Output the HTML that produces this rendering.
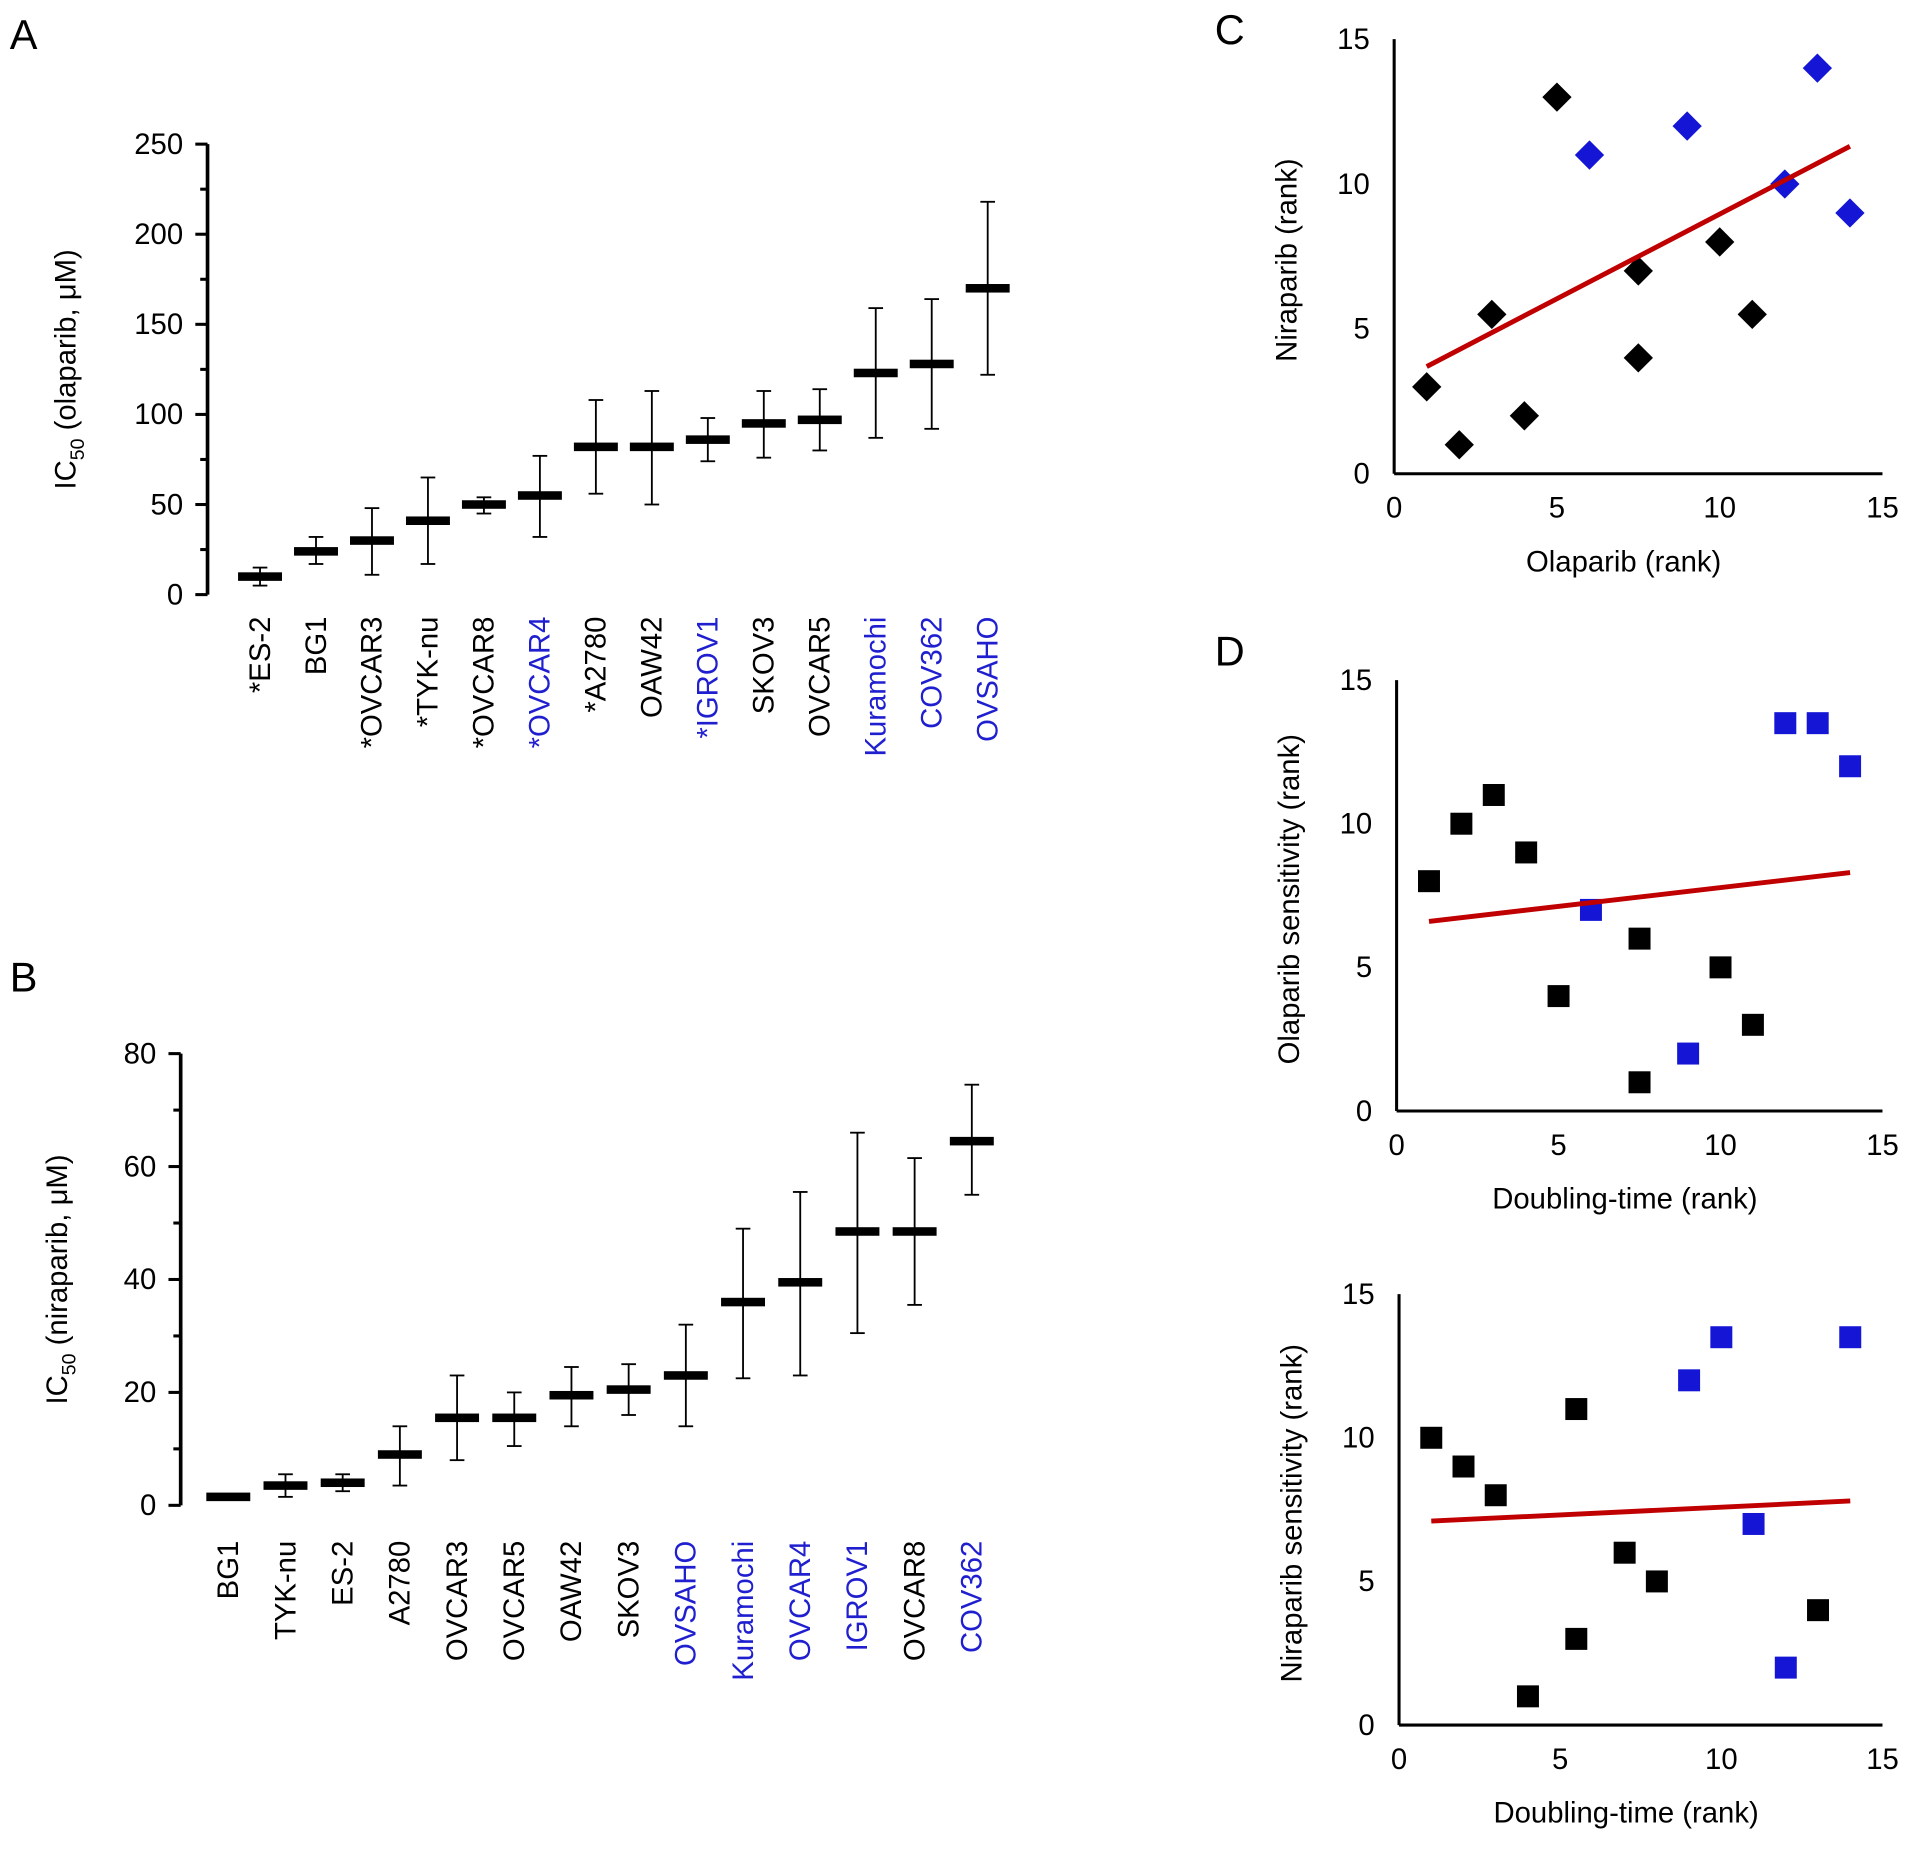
<!DOCTYPE html>
<html><head><meta charset="utf-8"><style>
html,body{margin:0;padding:0;background:#fff;}
svg{display:block;font-family:"Liberation Sans",Arial,sans-serif;}
</style></head><body>
<svg id="fig" width="1913" height="1857" viewBox="0 0 1567 1521" xmlns="http://www.w3.org/2000/svg">
<g id="root"></g>
</svg>
<script>
// Panel A data
const aCats = ["*ES-2","BG1","*OVCAR3","*TYK-nu","*OVCAR8","*OVCAR4","*A2780","OAW42","*IGROV1","SKOV3","OVCAR5","Kuramochi","COV362","OVSAHO"];
const aBlue = [0,0,0,0,0,1,0,0,1,0,0,1,1,1];
const aMean = [10,24,30,41,50,55,82,82,86,95,97,123,128,170];
const aLow  = [5,17,11,17,45,32,56,50,74,76,80,87,92,122];
const aHigh = [15,32,48,65,54,77,108,113,98,113,114,159,164,218];
const aTicks = [0,50,100,150,200,250];
// Panel B data
const bCats = ["BG1","TYK-nu","ES-2","A2780","OVCAR3","OVCAR5","OAW42","SKOV3","OVSAHO","Kuramochi","OVCAR4","IGROV1","OVCAR8","COV362"];
const bBlue = [0,0,0,0,0,0,0,0,1,1,1,1,0,1];
const bMean = [1.5,3.5,4,9,15.5,15.5,19.5,20.5,23,36,39.5,48.5,48.5,64.5];
const bLow  = [1,1.5,2.5,3.5,8,10.5,14,16,14,22.5,23,30.5,35.5,55];
const bHigh = [2,5.5,5.5,14,23,20,24.5,25,32,49,55.5,66,61.5,74.5];
const bTicks = [0,20,40,60,80];
// Panel C data
const cX = [1,2,3,4,5,7.5,7.5,10,11,6,9,12,13,14];
const cY = [3,1,5.5,2,13,7,4,8,5.5,11,12,10,14,9];
const cBlue = [0,0,0,0,0,0,0,0,0,1,1,1,1,1];
const cFit = [[1,3.7],[14,11.3]];
// Panel D1 data
const d1X = [1,2,3,4,5,7.5,7.5,10,11,6,9,12,13,14];
const d1Y = [8,10,11,9,4,6,1,5,3,7,2,13.5,13.5,12];
const d1Blue = [0,0,0,0,0,0,0,0,0,1,1,1,1,1];
const d1Fit = [[1,6.6],[14,8.3]];
// Panel D2 data
const d2X = [1,2,3,4,5.5,5.5,7,8,13,9,10,11,12,14];
const d2Y = [10,9,8,1,3,11,6,5,4,12,13.5,7,2,13.5];
const d2Blue = [0,0,0,0,0,0,0,0,0,1,1,1,1,1];
const d2Fit = [[1,7.1],[14,7.8]];
const scTicks = [0,5,10,15];

const NS="http://www.w3.org/2000/svg";
const root=document.getElementById('root');
function mk(tag,attrs,parent,txt){const e=document.createElementNS(NS,tag);for(const k in attrs)e.setAttribute(k,attrs[k]);if(txt!==undefined)e.textContent=txt;(parent||root).appendChild(e);return e;}
const BLUE="#1f1fd0";
const FS=24;

function letter(t,x,y){const e=mk('text',{x:x,y:y,'font-size':34},root,t);

}
letter('A',8,40);letter('B',8,812);letter('C',995,36);letter('D',995,545);

function barPanel(id,cats,blue,mean,low,high,ticks,axX,y0,yTop,vmax,x0,dx,labY,ylab,ylabX){
  const g=mk('g',{});
  
  
  const ys=v=>y0-(v/vmax)*(y0-yTop);
  const ax=mk('line',{x1:axX,y1:y0,x2:axX,y2:yTop,stroke:'#000','stroke-width':3},g);
  
  const step=ticks[1]-ticks[0];
  for(let v=0;v<=vmax+1e-9;v+=step/2){const major=Math.abs(v/step-Math.round(v/step))<1e-6;
    mk('line',{x1:axX-(major?10:6),y1:ys(v),x2:axX,y2:ys(v),stroke:'#000','stroke-width':2.5},g);}
  ticks.forEach(t=>{const e=mk('text',{x:axX-20,y:ys(t)+8,'font-size':FS,'text-anchor':'end'},g,String(t));
    });
  const yl=mk('text',{transform:`translate(${ylabX},${(y0+yTop)/2}) rotate(-90)`,'font-size':FS,'text-anchor':'middle'},g);
  
  mk('tspan',{},yl,'IC');mk('tspan',{dy:7,'font-size':16},yl,'50');mk('tspan',{dy:-7},yl,' '+ylab);
  cats.forEach((c,i)=>{const x=x0+i*dx;
    const eb=mk('line',{x1:x,y1:ys(low[i]),x2:x,y2:ys(high[i]),stroke:'#000','stroke-width':1.5},g);
    
    mk('line',{x1:x-6,y1:ys(low[i]),x2:x+6,y2:ys(low[i]),stroke:'#000','stroke-width':1.5},g);
    mk('line',{x1:x-6,y1:ys(high[i]),x2:x+6,y2:ys(high[i]),stroke:'#000','stroke-width':1.5},g);
    const m=mk('rect',{x:x-18,y:ys(mean[i])-3.5,width:36,height:7,fill:'#000'},g);
    
    const t=mk('text',{transform:`translate(${x+8},${labY}) rotate(-90)`,'font-size':FS,'text-anchor':'end',fill:blue[i]?BLUE:'#000'},g,c);
    
  });
}
barPanel('panel-a-olaparib-ic50',aCats,aBlue,aMean,aLow,aHigh,aTicks,170,487,118,250,213,45.85,505,'(olaparib, \u03BCM)',62);
barPanel('panel-b-niraparib-ic50',bCats,bBlue,bMean,bLow,bHigh,bTicks,148,1233,863,80,187,46.85,1262,'(niraparib, \u03BCM)',55);

function scatter(id,xs,ys,blue,fit,shape,ox,oy,x15,y15,xlab,ylab){
  const g=mk('g',{});
  
  
  const sx=v=>ox+v/15*(x15-ox), sy=v=>oy-v/15*(oy-y15);
  mk('line',{x1:ox,y1:oy,x2:x15,y2:oy,stroke:'#000','stroke-width':2.5},g);
  mk('line',{x1:ox,y1:oy,x2:ox,y2:y15,stroke:'#000','stroke-width':2.5},g);
  scTicks.forEach(t=>{
    const a=mk('text',{x:sx(t),y:oy+36,'font-size':FS,'text-anchor':'middle'},g,String(t));
    
    const b=mk('text',{x:ox-20,y:sy(t)+8,'font-size':FS,'text-anchor':'end'},g,String(t));
    
  });
  const xl=mk('text',{x:(ox+x15)/2-12,y:oy+80,'font-size':FS,'text-anchor':'middle'},g,xlab);
  
  const yl=mk('text',{transform:`translate(${ox-80},${(oy+y15)/2+3}) rotate(-90)`,'font-size':FS,'text-anchor':'middle'},g,ylab);
  
  xs.forEach((v,i)=>{const x=sx(v),y=sy(ys[i]),c=blue[i]?'#1515d6':'#000';let p;
    if(shape==='d') p=mk('polygon',{points:`${x},${y-12} ${x+12},${y} ${x},${y+12} ${x-12},${y}`,fill:c},g);
    else p=mk('rect',{x:x-9,y:y-9,width:18,height:18,fill:c},g);
    });
  const l=mk('line',{x1:sx(fit[0][0]),y1:sy(fit[0][1]),x2:sx(fit[1][0]),y2:sy(fit[1][1]),stroke:'#c00000','stroke-width':4},g);
  
}
scatter('panel-c-scatter',cX,cY,cBlue,cFit,'d',1142,388,1542,32,'Olaparib (rank)','Niraparib (rank)');
scatter('panel-d-olaparib-scatter',d1X,d1Y,d1Blue,d1Fit,'s',1144,910,1542,557,'Doubling-time (rank)','Olaparib sensitivity (rank)');
scatter('panel-d-niraparib-scatter',d2X,d2Y,d2Blue,d2Fit,'s',1146,1413,1542,1060,'Doubling-time (rank)','Niraparib sensitivity (rank)');
</script>
</body></html>
